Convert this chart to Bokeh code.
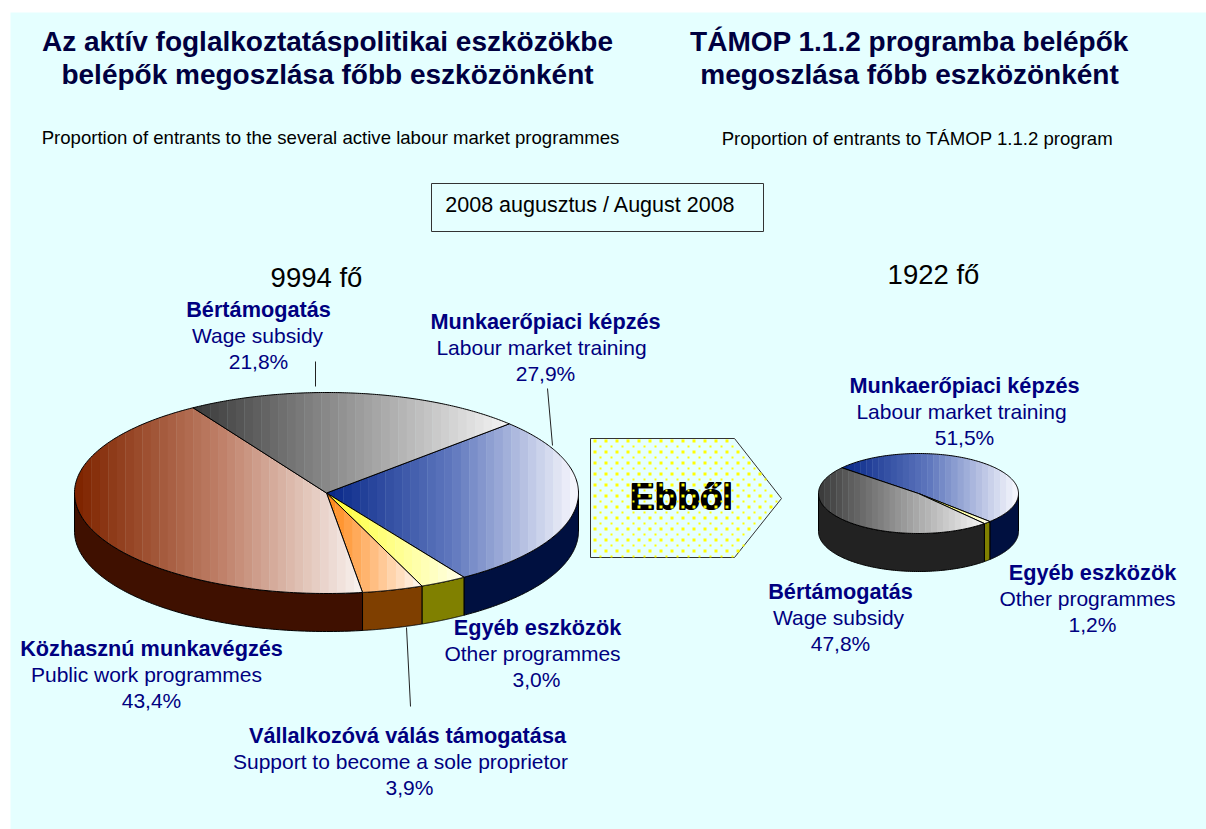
import numpy as np
from bokeh.plotting import figure
from bokeh.models import Range1d, ColumnDataSource
from bokeh.core.properties import value
from bokeh.embed import file_html
from bokeh.resources import INLINE

# ---- data ----
left_names = ["Munkaerőpiaci képzés", "Egyéb eszközök", "Vállalkozóvá válás támogatása", "Közhasznú munkavégzés", "Bértámogatás"]
left_names_en = ["Labour market training", "Other programmes", "Support to become a sole proprietor", "Public work programmes", "Wage subsidy"]
left_values = [27.9, 3.0, 3.9, 43.4, 21.8]
right_names = ["Munkaerőpiaci képzés", "Egyéb eszközök", "Bértámogatás"]
right_names_en = ["Labour market training", "Other programmes", "Wage subsidy"]
right_values = [51.5, 1.2, 47.8]
left_total = "9994 fő"
right_total = "1922 fő"

NAVY = "#000080"
FONT = value("Liberation Sans")

# start, middle, end of each slice's left-to-right shading, then the side wall colour
GRAD = {
    "Munkaerőpiaci képzés": ("#0A2A8A", "#6078BE", "#F4F5FC", "#001040"),
    "Egyéb eszközök": ("#FFFF33", "#FFFF8C", "#FFFFE6", "#808000"),
    "Vállalkozóvá válás támogatása": ("#FF8C1E", "#FFBE82", "#FFF4EA", "#7F3F00"),
    "Közhasznú munkavégzés": ("#7F2500", "#BE7E66", "#F8F0EC", "#3F1000"),
    "Bértámogatás": ("#3C3C3C", "#979797", "#F2F2F2", None),
}

p = figure(width=1206, height=829, x_range=Range1d(0, 1206), y_range=Range1d(829, 0),
           output_backend="svg", toolbar_location=None, min_border=0,
           background_fill_color="white", border_fill_color="white", outline_line_color=None)
p.axis.visible = False
p.grid.visible = False

# page panel
p.patches([[10, 1206, 1206, 10]], [[12, 12, 829, 829]], fill_color="#E5FFFF", line_color=None)


def hex2rgb(h):
    return np.array([int(h[i:i + 2], 16) for i in (1, 3, 5)], float)


def rgb2hex(c):
    return "#%02X%02X%02X" % tuple(int(round(v)) for v in c)


def shade(stops, t):
    c0, c1, c2 = (hex2rgb(s) for s in stops[:3])
    if t < 0.5:
        return rgb2hex(c0 + (c1 - c0) * t * 2)
    return rgb2hex(c1 + (c2 - c1) * (t - 0.5) * 2)


def clip(poly, xlim, keep_right):
    out = []
    n = len(poly)
    for i in range(n):
        a, b = poly[i], poly[(i + 1) % n]
        ina = a[0] >= xlim if keep_right else a[0] <= xlim
        inb = b[0] >= xlim if keep_right else b[0] <= xlim
        if ina:
            out.append(a)
        if ina != inb:
            t = (xlim - a[0]) / (b[0] - a[0])
            out.append((xlim, a[1] + t * (b[1] - a[1])))
    return out


def draw_pie(names, vals, start, cx, cy, rx, ry, depth, strip, side_over=None):
    side_over = side_over or {}
    fr = np.array(vals, float) / sum(vals) * 360
    edges = start + np.concatenate([[0], np.cumsum(fr)])

    def pt(a):
        r = np.radians(a)
        return cx + rx * np.sin(r), cy - ry * np.cos(r)

    # side walls
    for i, nm in enumerate(names):
        col = side_over.get(nm, GRAD[nm][3])
        for shift in (0, 360, -360):
            a0 = max(edges[i] + shift, 90)
            a1 = min(edges[i + 1] + shift, 270)
            if a1 <= a0:
                continue
            arc = np.linspace(a0, a1, 120)
            xs, ys = pt(arc)
            p.patches([list(xs) + list(xs[::-1])], [list(ys) + list((ys + depth)[::-1])],
                      fill_color=col, line_color="black", line_width=1)
    # top faces
    for i, nm in enumerate(names):
        arc = np.linspace(edges[i], edges[i + 1], 160)
        xs, ys = pt(arc)
        poly = [(cx, cy)] + list(zip(xs, ys))
        x0, x1 = min(q[0] for q in poly), max(q[0] for q in poly)
        n = max(2, int(round((x1 - x0) / strip)))
        bands = np.linspace(x0, x1, n + 1)
        sx, sy, sc = [], [], []
        for k in range(n):
            q = clip(poly, bands[k], True)
            if len(q) >= 3:
                q = clip(q, bands[k + 1] + 0.4, False)
            if len(q) < 3:
                continue
            sx.append([u[0] for u in q])
            sy.append([u[1] for u in q])
            sc.append(shade(GRAD[nm], k / max(n - 1, 1)))
        p.patches(sx, sy, fill_color=sc, line_color=None)
        p.line([cx] + list(xs) + [cx], [cy] + list(ys) + [cy], line_color="black", line_width=1)


draw_pie(left_names, left_values, 46.5, 326, 492.5, 252, 100.5, 38, 8.5)
draw_pie(right_names, right_values, -50, 918, 493, 100, 40, 38, 6,
         side_over={"Bértámogatás": "#222222"})

# leader lines
p.line([315, 315], [361, 386], line_color="#222222", line_width=1)
p.line([547, 552], [388, 445], line_color="#222222", line_width=1)
p.line([406, 410], [627, 706], line_color="#222222", line_width=1)

# arrow shape
ax = [590, 734, 781, 734, 590]
ay = [438, 438, 498, 557, 557]
p.patches([ax], [ay], fill_color="#E5FFFF", line_color="#333333", line_width=1)


def txt(xs, ys, texts, size, color, style="normal"):
    src = ColumnDataSource(dict(x=xs, y=[v - 1 for v in ys], t=texts))
    p.text("x", "y", text="t", source=src, text_font=FONT, text_font_size=size, text_color=color,
           text_font_style=style, text_align="center", text_baseline="middle")


# "Ebből" with a heavy look, dots fall over it
for dx, dy in ((0, 0), (1, 0), (0, 1), (1, 1)):
    txt([680.5 + dx], [496.5 + dy], ["Ebből"], "37px", "black", "bold")

gx, gy, gs = [], [], []
for r, yy in enumerate(np.arange(440.5, 557, 5.5)):
    for xx in np.arange(594.5 + (5.5 if r % 2 else 0), 781, 11):
        if xx <= 734 or abs(yy - 498) <= (781 - xx) * 59.5 / 47 - 1:
            gx.append(xx)
            gy.append(yy)
            gs.append(2 if r % 2 else 3)
p.scatter(gx, gy, marker="square", size=gs, fill_color="#FFFF00", line_color=None)

# titles
txt([327, 327], [42, 75], ["Az aktív foglalkoztatáspolitikai eszközökbe", "belépők megoszlása főbb eszközönként"],
    "28px", "#000040", "bold")
txt([909, 909], [42, 75], ["TÁMOP 1.1.2 programba belépők", "megoszlása főbb eszközönként"],
    "28px", "#000040", "bold")
txt([330], [138], ["Proportion of entrants to the several active labour market programmes"], "18.6px", "black")
txt([917], [139], ["Proportion of entrants to TÁMOP 1.1.2 program"], "18.6px", "black")

# date box
p.patches([[431, 763, 763, 431]], [[183, 183, 231, 231]], fill_color="#E5FFFF", line_color="#333333", line_width=1)
txt([590], [205], ["2008 augusztus / August 2008"], "21.5px", "black")

# totals
txt([316, 933], [278, 275], [left_total, right_total], "27.5px", "black")


def pct(v):
    return f"{v:.1f}%".replace(".", ",")


# labels
label_pos_left = {0: (545, 541, 545, 322), 1: (537, 532, 536, 628), 2: (407, 400, 409, 736),
                  3: (151, 146, 151, 649), 4: (258, 257, 258, 310)}
label_pos_right = {0: (964, 961, 964, 386), 1: (1092, 1087, 1092, 573), 2: (840, 838, 840, 592)}
for names, en, vals, pos in ((left_names, left_names_en, left_values, label_pos_left),
                             (right_names, right_names_en, right_values, label_pos_right)):
    for i in range(len(names)):
        x1, x2, x3, y = pos[i]
        txt([x1], [y], [names[i]], "21.7px", NAVY, "bold")
        txt([x2, x3], [y + 26, y + 51.5], [en[i], pct(vals[i])], "21px", NAVY)

open("out.html", "w").write(file_html(p, INLINE))
